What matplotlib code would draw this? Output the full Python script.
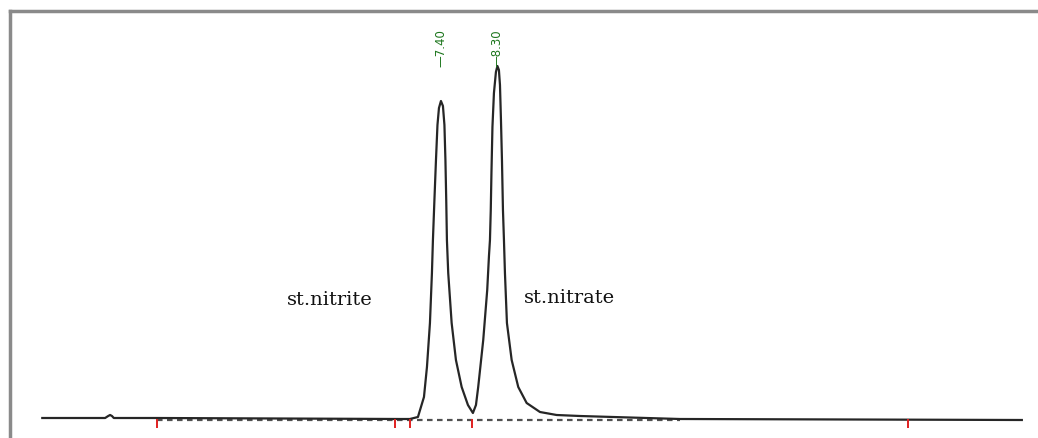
import numpy as np
from matplotlib import pyplot as plt
from matplotlib.lines import Line2D

# retention time (min) and detector signal
time = [0.99, 2.00, 2.05, 2.08, 2.11, 2.14, 2.83, 4.81, 6.74, 6.90,
        7.03, 7.127, 7.175, 7.223, 7.255, 7.271, 7.295, 7.320, 7.344, 7.368,
        7.40, 7.432, 7.456, 7.472, 7.485, 7.496, 7.517, 7.572, 7.641, 7.733,
        7.834, 7.914, 7.963, 7.999, 8.080, 8.144, 8.172, 8.188, 8.201, 8.212,
        8.228, 8.252, 8.284, 8.308, 8.332, 8.349, 8.365, 8.381, 8.397, 8.413,
        8.429, 8.461, 8.537, 8.643, 8.778, 8.992, 9.260, 9.635, 11.24, 16.74]
signal = [1, 1, 3, 4, 3, 1, 1, 0.5, 0, 0,
          2, 22, 52, 96, 146, 179, 219, 259, 294, 311,
          318, 313, 294, 259, 219, 179, 146, 96, 59, 32,
          14, 6, 14, 32, 79, 129, 163, 179, 209, 246,
          292, 326, 347, 353, 349, 334, 299, 259, 209, 179,
          146, 96, 59, 32, 16, 7, 4, 3, 0, -1]

peak_times = [7.40, 8.30]
peak_labels = ['\u20147.40', '\u20148.30']
event_ticks = [2.83, 6.66, 6.90, 7.90, 14.91]
baseline_span = [2.83, 11.24]
names = ['st.nitrite', 'st.nitrate']
name_pos = [(5.62, 119), (9.47, 121)]


def main():
    fig = plt.figure(figsize=(10.38, 4.38), dpi=100)
    ax = fig.add_axes([0, 0, 1, 1])

    ax.plot(baseline_span, [-1, -1], color='#505050', lw=1.6,
            ls=(0, (2.5, 2.0)), zorder=1)
    ax.plot(time, signal, color='#262626', lw=1.6, zorder=2)
    ax.vlines(event_ticks, -9, 0, color='#e02020', lw=1.4, zorder=3)

    for t, lab in zip(peak_times, peak_labels):
        ax.text(t, 352, lab, rotation=90, ha='center', va='bottom',
                color='#1c761c', fontsize=8.5)

    for name, (x, y) in zip(names, name_pos):
        ax.text(x, y, name, ha='center', va='center', fontsize=14,
                family='DejaVu Serif', color='#111111')

    ax.set_xlim(0.31, 17.0)
    ax.set_ylim(-19, 419)
    ax.axis('off')

    # grey frame of the original screenshot (top and left edges)
    fig.add_artist(Line2D([10 / 1038, 1], [1 - 11 / 438, 1 - 11 / 438],
                          transform=fig.transFigure, color='#8a8a8a', lw=2.5))
    fig.add_artist(Line2D([10 / 1038, 10 / 1038], [0, 1 - 11 / 438],
                          transform=fig.transFigure, color='#8a8a8a', lw=2.5))

    fig.savefig('out.png', dpi=100)


if __name__ == '__main__':
    main()
